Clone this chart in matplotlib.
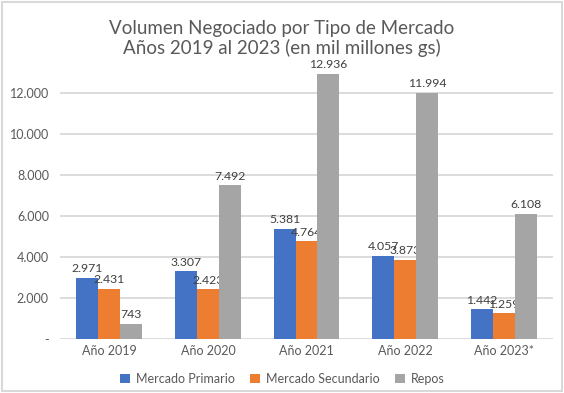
import numpy as np
import matplotlib.pyplot as plt
from matplotlib.patches import Rectangle

anios = ['Año 2019', 'Año 2020', 'Año 2021', 'Año 2022', 'Año 2023*']
primario = [2971, 3307, 5381, 4057, 1442]
secundario = [2431, 2423, 4764, 3873, 1259]
repos = [743, 7492, 12936, 11994, 6108]

series = [('Mercado Primario', primario, '#4472C4'),
          ('Mercado Secundario', secundario, '#ED7D31'),
          ('Repos', repos, '#A5A5A5')]

plt.rcParams['font.family'] = ['Lato', 'DejaVu Sans']

fig = plt.figure(figsize=(5.64, 3.93), dpi=100)
ax = fig.add_axes([60 / 564, 1 - 339 / 393, 493 / 564, 287 / 393])

def fmt(v):
    return f'{v:,}'.replace(',', '.')

x = np.arange(len(anios))
w = 0.223
for i, (nombre, vals, color) in enumerate(series):
    pos = x + (i - 1) * w
    ax.bar(pos, vals, width=w, color=color, label=nombre, zorder=3)
    for p, v in zip(pos, vals):
        ax.text(p, v + 180, fmt(v), ha='center', va='bottom', fontsize=8.8, color='#404040')

ax.set_xlim(-0.5, len(anios) - 0.5)
ax.set_ylim(0, 14000)
ticks = np.arange(0, 12001, 2000)
ax.set_yticks(ticks)
ax.set_yticklabels(['-'] + [fmt(t) for t in ticks[1:]])
ax.set_xticks(x)
ax.set_xticklabels(anios)
ax.tick_params(axis='both', length=0, labelsize=9, colors='#595959')
ax.tick_params(axis='x', pad=4)
ax.tick_params(axis='y', pad=8)
ax.grid(axis='y', color='#D9D9D9', linewidth=1.3, zorder=0)
for s in ax.spines.values():
    s.set_visible(False)

fig.text(0.5, 1 - 57 / 393, 'Volumen Negociado por Tipo de Mercado\nAños 2019 al 2023 (en mil millones gs)',
         ha='center', va='bottom', fontsize=13.5, color='#595959', linespacing=1.12)

fig.legend(loc='center', bbox_to_anchor=(0.5, 1 - 379 / 393), ncol=3, frameon=False,
           fontsize=9, handlelength=0.8, handleheight=0.8, columnspacing=1.2,
           handletextpad=0.5, labelcolor='#595959')

fig.patches.append(Rectangle((0.003, 0.004), 0.994, 0.992, transform=fig.transFigure,
                             fill=False, edgecolor='#D9D9D9', linewidth=1.5))

fig.savefig('out.png', dpi=100)
